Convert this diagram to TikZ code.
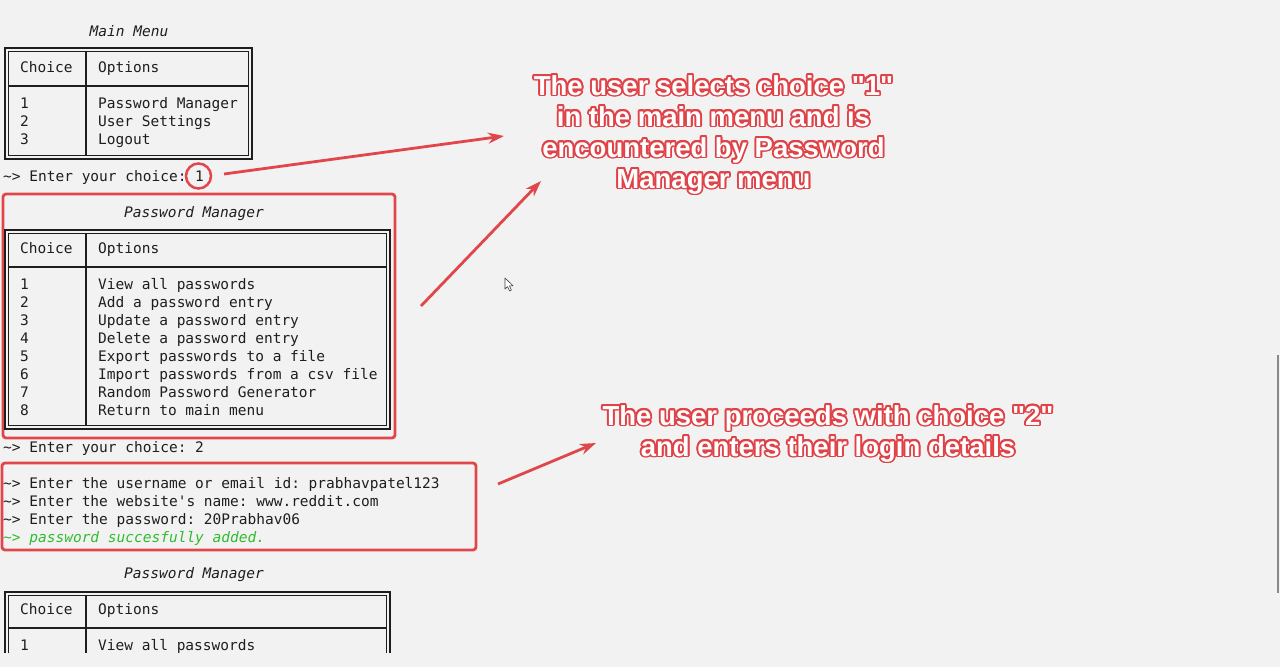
\documentclass[tikz,border=0pt]{standalone}
\usepackage{fontspec}
\setmonofont{DejaVu Sans Mono}
\newfontfamily\annfont{Liberation Sans}
\usetikzlibrary{arrows.meta}
\definecolor{bg}{HTML}{F2F2F2}
\definecolor{rd}{HTML}{E0464A}
\definecolor{annred}{HTML}{DF4247}
\definecolor{grn}{HTML}{2FBD2F}
\definecolor{ink}{HTML}{1E1E1E}
\definecolor{scroll}{HTML}{8A8A8A}
\newcommand\tld{\textasciitilde}
\newcommand\olay[3]{\rlap{\kern#1\raisebox{#2}{\textcolor{annred}{#3}}}}
\newcommand\outlinetext[1]{%
 \olay{1.8pt}{0pt}{#1}\olay{-1.8pt}{0pt}{#1}\olay{0pt}{1.8pt}{#1}\olay{0pt}{-1.8pt}{#1}%
 \olay{1.3pt}{1.3pt}{#1}\olay{-1.3pt}{1.3pt}{#1}\olay{1.3pt}{-1.3pt}{#1}\olay{-1.3pt}{-1.3pt}{#1}%
 \olay{1.65pt}{0.7pt}{#1}\olay{-1.65pt}{0.7pt}{#1}\olay{1.65pt}{-0.7pt}{#1}\olay{-1.65pt}{-0.7pt}{#1}%
 \olay{0.7pt}{1.65pt}{#1}\olay{-0.7pt}{1.65pt}{#1}\olay{0.7pt}{-1.65pt}{#1}\olay{-0.7pt}{-1.65pt}{#1}%
 \textcolor{white}{#1}}
\tikzset{
  term/.style={anchor=base west, inner sep=0pt, font=\ttfamily\fontsize{14.5}{18}\selectfont, text=ink},
  ttl/.style={anchor=base, inner sep=0pt, font=\ttfamily\itshape\fontsize{14.5}{18}\selectfont, text=ink},
  frame/.style={draw=ink, line width=1.2pt},
  sep/.style={draw=ink, line width=1.8pt},
  redbox/.style={draw=rd, line width=2.8pt, rounded corners=3pt},
  redarrow/.style={draw=rd, line width=2.8pt, -{Stealth[length=16pt,width=11pt]}},
  annot/.style={inner sep=0pt, anchor=base, font=\annfont\bfseries\fontsize{27.5}{31}\selectfont},
}
\begin{document}
\begin{tikzpicture}[x=1pt,y=-1pt]
\fill[bg] (0,0) rectangle (1280,667);
\useasboundingbox (0,0) rectangle (1280,667);

% ---------- Main menu ----------
\node[ttl] (mmTitle) at (129,36) {Main Menu};
\draw[frame] (5,48) rectangle (252,159);
\draw[frame] (8.5,51.5) rectangle (248.5,155.5);
\draw[sep] (8.5,86) -- (248.5,86);
\draw[sep] (86,51.5) -- (86,155.5);
\node[term] (mmH1) at (20,72) {Choice};
\node[term] (mmH2) at (98,72) {Options};
\foreach \i/\t [evaluate=\i as \yy using 108+18*(\i-1)] in {1/Password Manager,2/User Settings,3/Logout}{
  \node[term] (mmC\i) at (20,\yy) {\i};
  \node[term] (mmO\i) at (98,\yy) {\t};
}
\node[term] (enter1) at (3,181) {\tld> Enter your choice: 1};
\node[draw=rd, line width=2.5pt, circle, minimum size=25pt, inner sep=0pt] (sel1) at (198.5,176) {};

% ---------- Password manager (highlighted) ----------
\draw[redbox] (3,194) rectangle (395,438);
\node[ttl] (pmTitle) at (194,217) {Password Manager};
\draw[frame] (5,230) rectangle (390,429);
\draw[frame] (8.5,233.5) rectangle (386.5,425.5);
\draw[sep] (8.5,267) -- (386.5,267);
\draw[sep] (86,233.5) -- (86,425.5);
\node[term] (pmH1) at (20,253) {Choice};
\node[term] (pmH2) at (98,253) {Options};
\foreach \i/\t [evaluate=\i as \yy using 289+18*(\i-1)] in {1/View all passwords,2/Add a password entry,3/Update a password entry,4/Delete a password entry,5/Export passwords to a file,6/Import passwords from a csv file,7/Random Password Generator,8/Return to main menu}{
  \node[term] (pmC\i) at (20,\yy) {\i};
  \node[term] (pmO\i) at (98,\yy) {\t};
}
\node[term] (enter2) at (3,452) {\tld> Enter your choice: 2};

% ---------- Entry box ----------
\draw[redbox] (2,463) rectangle (476,550);
\node[term] (in1) at (3,488) {\tld> Enter the username or email id: prabhavpatel123};
\node[term] (in2) at (3,506) {\tld> Enter the website's name: www.reddit.com};
\node[term] (in3) at (3,524) {\tld> Enter the password: 20Prabhav06};
\node[term, text=grn] (in4) at (3,542) {\tld> \itshape password succesfully added.};

% ---------- Password manager (again, cut off) ----------
\node[ttl] (pm2Title) at (194,578) {Password Manager};
\draw[frame] (5,653) -- (5,592) -- (390,592) -- (390,653);
\draw[frame] (8.5,653) -- (8.5,595.5) -- (386.5,595.5) -- (386.5,653);
\draw[sep] (8.5,628) -- (386.5,628);
\draw[sep] (86,595.5) -- (86,653);
\node[term] (pm2H1) at (20,614) {Choice};
\node[term] (pm2H2) at (98,614) {Options};
\node[term] (pm2C1) at (20,650) {1};
\node[term] (pm2O1) at (98,650) {View all passwords};

% ---------- Annotations ----------
\node[annot] (n1a) at (713.5,95) {\outlinetext{The user selects choice "1"}};
\node[annot] (n1b) at (713.5,126) {\outlinetext{in the main menu and is}};
\node[annot] (n1c) at (713.5,157) {\outlinetext{encountered by Password}};
\node[annot] (n1d) at (713.5,188) {\outlinetext{Manager menu}};
\node[annot] (n2a) at (828,425) {\outlinetext{The user proceeds with choice "2"}};
\node[annot] (n2b) at (828,456) {\outlinetext{and enters their login details}};

% ---------- Arrows ----------
\coordinate (a1s) at (224,174);
\coordinate (a1e) at (504,136);
\coordinate (a2s) at (421,306);
\coordinate (a2e) at (541,181);
\coordinate (a3s) at (498,484);
\coordinate (a3e) at (596,443);
\draw[redarrow] (a1s) -- (a1e);
\draw[redarrow] (a2s) -- (a2e);
\draw[redarrow] (a3s) -- (a3e);

% ---------- Mouse cursor ----------
\draw[fill=white, draw=black!75, line width=0.6pt, line join=round]
  (505,278) -- (505,289) -- (507.6,286.6) -- (509.6,291) -- (511.4,290.2) -- (509.5,285.9) -- (513,285.7) -- cycle;

% ---------- Scrollbar ----------
\draw[scroll, line width=1.6pt] (1278,355) -- (1278,593);
\end{tikzpicture}
\end{document}
